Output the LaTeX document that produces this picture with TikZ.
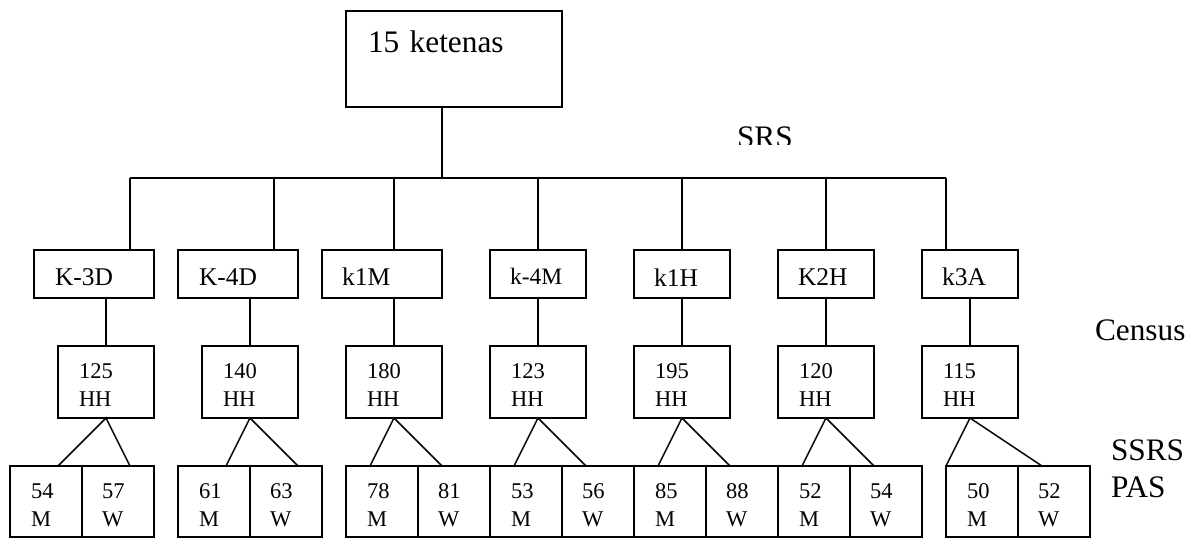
\documentclass[tikz,border=0pt]{standalone}
\usepackage{fontspec}
\setmainfont{Liberation Serif}
\begin{document}
\begin{tikzpicture}[x=1pt,y=-1pt,
  box/.style={draw, line width=1.5pt, inner sep=0pt, outer sep=0pt, anchor=north west},
  conn/.style={line width=1.5pt},
  lbl/.style={inner sep=0pt, outer sep=0pt, anchor=base west, text width=80pt, align=left},
  big/.style={font=\fontsize{31.3}{37}\selectfont},
  mid/.style={font=\fontsize{25.5}{30}\selectfont},
  small/.style={font=\fontsize{22.5}{28.5}\selectfont}]
\useasboundingbox (0,0) rectangle (1197,538);
% top box
\node[box, minimum width=216pt, minimum height=96pt] (top) at (346,11) {};
\node[lbl, big, text width=200pt] (ttop) at (368,52) {15 ketenas};
% level 2 boxes
\node[box, minimum width=120pt, minimum height=48pt] (k1) at (34,250) {};
\node[box, minimum width=120pt, minimum height=48pt] (k2) at (178,250) {};
\node[box, minimum width=120pt, minimum height=48pt] (k3) at (322,250) {};
\node[box, minimum width=96pt, minimum height=48pt] (k4) at (490,250) {};
\node[box, minimum width=96pt, minimum height=48pt] (k5) at (634,250) {};
\node[box, minimum width=96pt, minimum height=48pt] (k6) at (778,250) {};
\node[box, minimum width=96pt, minimum height=48pt] (k7) at (922,250) {};
\node[lbl, mid] (tk1) at (55,285) {K-3D};
\node[lbl, mid] (tk2) at (199,285) {K-4D};
\node[lbl, mid] (tk3) at (342,285) {k1M};
\node[lbl, font=\fontsize{23.5}{28}\selectfont] (tk4) at (510,284) {k-4M};
\node[lbl, mid] (tk5) at (654,286) {k1H};
\node[lbl, mid] (tk6) at (798,285) {K2H};
\node[lbl, mid] (tk7) at (942,285) {k3A};
% HH boxes
\foreach \i/\x in {1/58,2/202,3/346,4/490,5/634,6/778,7/922}{
  \node[box, minimum width=96pt, minimum height=72pt] (hh\i) at (\x,346) {};
}
\foreach \i/\x/\n in {1/79/125,2/223/140,3/367/180,4/511/123,5/655/195,6/799/120,7/943/115}{
  \node[lbl, small] (thh\i) at (\x,378) {\n\\HH};
}
% bottom cells
\foreach \i/\x in {1/10,2/178,3/346,4/490,5/634,6/778,7/946}{
  \node[box, minimum width=72pt, minimum height=71pt] (m\i) at (\x,466) {};
  \node[box, minimum width=72pt, minimum height=71pt] (w\i) at (m\i.north east) {};
}
\foreach \i/\x/\a/\b in {1/10/54/57,2/178/61/63,3/346/78/81,4/490/53/56,5/634/85/88,6/778/52/54,7/946/50/52}{
  \node[lbl, small] (tm\i) at (\x+21,498) {\a\\M};
  \node[lbl, small] (tw\i) at (\x+92,498) {\b\\W};
}
% side labels
\begin{scope}
  \clip (700,100) rectangle (830,144);
  \node[lbl, big] (srs) at (737,147) {SRS};
\end{scope}
\node[lbl, big] (census) at (1095,340) {Census};
\node[lbl, font=\fontsize{31.3}{37}\selectfont] (ssrs) at (1111,460) {SSRS\\PAS};
% connectors
\coordinate (bar) at (442,178);
\draw[conn] ([xshift=-12pt]top.south) -- (bar);
\draw[conn] ([xshift=36pt]k1.north |- bar) -- ([xshift=-24pt]k7.north |- bar);
\foreach \i/\d in {1/36,2/36,3/12,4/0,5/0,6/0,7/-24}{
  \draw[conn] ([xshift=\d pt]k\i.north |- bar) -- ([xshift=\d pt]k\i.north);
  \draw[conn] (hh\i.north |- k\i.south) -- (hh\i.north);
}
\foreach \i/\a/\b in {1/48/120,2/48/120,3/24/96,4/24/96,5/24/96,6/24/96,7/0/96}{
  \draw[conn] ([xshift=\a pt]m\i.north west) -- (hh\i.south) -- ([xshift=\b pt]m\i.north west);
}
\end{tikzpicture}
\end{document}
